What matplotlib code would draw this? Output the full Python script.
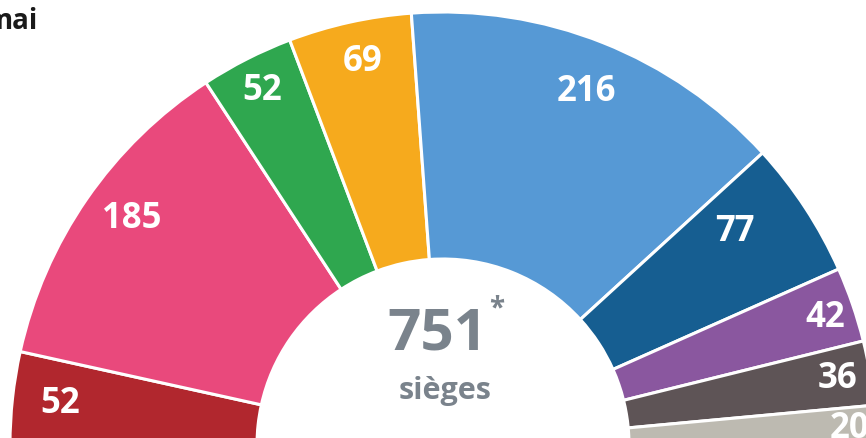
import numpy as np
import matplotlib
matplotlib.use("Agg")
import matplotlib.pyplot as plt
from matplotlib.patches import Wedge

# seats per group, left to right
seats = [52, 185, 52, 69, 216, 77, 42, 36, 20]
labels = ["52", "185", "52", "69", "216", "77", "42", "36", "20"]
colors = ["#b1272e", "#e9497c", "#2fa74f", "#f6aa1d", "#5699d5",
          "#165e91", "#8a579f", "#5e5456", "#bdbab1"]
total_seats = 751

# layout (pixel units, y measured up from the bottom edge)
cx, cy = 443, -7
r_out, r_in = 433, 186
label_r = [385, 385, 398, 392, 382, 362, 403, 400, 407]
label_dang = [0, -1.5, 0, -0.6, -0.4, 3.0, -0.4, 0, -0.5]

fig = plt.figure(figsize=(8.66, 4.39), dpi=100)
ax = fig.add_axes([0, 0, 1, 1])
ax.set_xlim(0, 866)
ax.set_ylim(0, 439)
ax.set_aspect("auto")
ax.axis("off")

cum = 0
for n, lab, col, lr, da in zip(seats, labels, colors, label_r, label_dang):
    a1 = 180 - cum / total_seats * 180
    a2 = 180 - (cum + n) / total_seats * 180
    ax.add_patch(Wedge((cx, cy), r_out, a2, a1, width=r_out - r_in,
                       facecolor=col, edgecolor="white", linewidth=2.2))
    mid = np.radians((a1 + a2) / 2 + da)
    ax.text(cx + lr * np.cos(mid), cy + lr * np.sin(mid), lab,
            color="white", fontsize=25, fontweight="bold",
            family="Open Sans", ha="center", va="center")
    cum += n

# centre text
ax.text(437, 104, "751", color="#7a838c", fontsize=42, fontweight="bold",
        family="Open Sans", ha="center", va="center")
ax.text(497, 130, "*", color="#7a838c", fontsize=20, fontweight="bold",
        family="Open Sans", ha="center", va="center")
ax.text(445, 48, "sièges", color="#7a838c", fontsize=22, fontweight="bold",
        family="Open Sans", ha="center", va="center")

# title fragment cut by the crop
ax.text(-14, 418, "mai", color="#1a1a1a", fontsize=20, fontweight="bold",
        family="Open Sans", ha="left", va="center")

fig.savefig("out.png", dpi=100)
